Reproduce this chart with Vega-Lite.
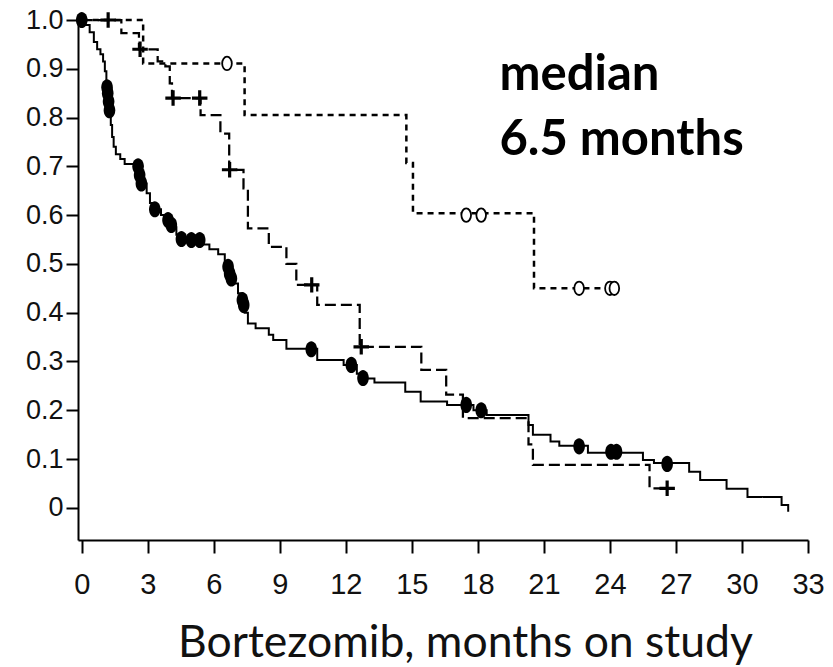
{
  "$schema": "https://vega.github.io/schema/vega-lite/v6.json",
  "autosize": {"type": "none"},
  "padding": {"left": 78, "top": 20, "right": 25, "bottom": 127},
  "width": 730,
  "height": 520,
  "background": "white",
  "config": {"view": {"stroke": null}},
  "datasets": {
    "curves": [
      {"series": "A", "t": 0, "s": 1.0},
      {"series": "A", "t": 0.15, "s": 0.99},
      {"series": "A", "t": 0.36, "s": 0.975},
      {"series": "A", "t": 0.55, "s": 0.955},
      {"series": "A", "t": 0.7, "s": 0.94},
      {"series": "A", "t": 0.85, "s": 0.93},
      {"series": "A", "t": 0.97, "s": 0.915},
      {"series": "A", "t": 1.05, "s": 0.895},
      {"series": "A", "t": 1.12, "s": 0.875},
      {"series": "A", "t": 1.17, "s": 0.855},
      {"series": "A", "t": 1.22, "s": 0.835},
      {"series": "A", "t": 1.27, "s": 0.81},
      {"series": "A", "t": 1.32, "s": 0.785},
      {"series": "A", "t": 1.38, "s": 0.76},
      {"series": "A", "t": 1.45, "s": 0.74},
      {"series": "A", "t": 1.55, "s": 0.725},
      {"series": "A", "t": 1.75, "s": 0.715},
      {"series": "A", "t": 1.95, "s": 0.705},
      {"series": "A", "t": 2.55, "s": 0.695},
      {"series": "A", "t": 2.65, "s": 0.68},
      {"series": "A", "t": 2.75, "s": 0.665},
      {"series": "A", "t": 2.95, "s": 0.645},
      {"series": "A", "t": 3.1, "s": 0.625},
      {"series": "A", "t": 3.3, "s": 0.612},
      {"series": "A", "t": 3.6, "s": 0.6},
      {"series": "A", "t": 3.9, "s": 0.59},
      {"series": "A", "t": 4.1, "s": 0.575},
      {"series": "A", "t": 4.3, "s": 0.56},
      {"series": "A", "t": 4.5, "s": 0.55},
      {"series": "A", "t": 5.5, "s": 0.54},
      {"series": "A", "t": 5.8, "s": 0.53},
      {"series": "A", "t": 6.2, "s": 0.52},
      {"series": "A", "t": 6.5, "s": 0.505},
      {"series": "A", "t": 6.65, "s": 0.49},
      {"series": "A", "t": 6.8, "s": 0.475},
      {"series": "A", "t": 6.95, "s": 0.46},
      {"series": "A", "t": 7.1, "s": 0.44},
      {"series": "A", "t": 7.3, "s": 0.42},
      {"series": "A", "t": 7.4, "s": 0.4},
      {"series": "A", "t": 7.55, "s": 0.378},
      {"series": "A", "t": 7.9, "s": 0.368},
      {"series": "A", "t": 8.5, "s": 0.355},
      {"series": "A", "t": 8.7, "s": 0.344},
      {"series": "A", "t": 9.3, "s": 0.326},
      {"series": "A", "t": 10.7, "s": 0.303},
      {"series": "A", "t": 11.9, "s": 0.293},
      {"series": "A", "t": 12.5, "s": 0.275},
      {"series": "A", "t": 12.7, "s": 0.265},
      {"series": "A", "t": 13.3, "s": 0.257},
      {"series": "A", "t": 14.7, "s": 0.238},
      {"series": "A", "t": 15.4, "s": 0.218},
      {"series": "A", "t": 16.6, "s": 0.211},
      {"series": "A", "t": 17.8, "s": 0.2},
      {"series": "A", "t": 18.4, "s": 0.19},
      {"series": "A", "t": 20.3, "s": 0.17},
      {"series": "A", "t": 20.5, "s": 0.15},
      {"series": "A", "t": 21.3, "s": 0.136},
      {"series": "A", "t": 21.7, "s": 0.127},
      {"series": "A", "t": 23.0, "s": 0.113},
      {"series": "A", "t": 25.5, "s": 0.098},
      {"series": "A", "t": 26.0, "s": 0.092},
      {"series": "A", "t": 27.6, "s": 0.074},
      {"series": "A", "t": 28.1, "s": 0.057},
      {"series": "A", "t": 29.3, "s": 0.039},
      {"series": "A", "t": 30.25, "s": 0.022},
      {"series": "A", "t": 31.8, "s": 0.006},
      {"series": "A", "t": 32.1, "s": -0.008},
      {"series": "B", "t": 0, "s": 1.0},
      {"series": "B", "t": 1.8, "s": 0.973},
      {"series": "B", "t": 2.6, "s": 0.94},
      {"series": "B", "t": 3.45, "s": 0.915},
      {"series": "B", "t": 3.8, "s": 0.905},
      {"series": "B", "t": 4.0, "s": 0.87},
      {"series": "B", "t": 4.1, "s": 0.84},
      {"series": "B", "t": 5.4, "s": 0.805},
      {"series": "B", "t": 6.3, "s": 0.767},
      {"series": "B", "t": 6.7, "s": 0.693},
      {"series": "B", "t": 7.35, "s": 0.655},
      {"series": "B", "t": 7.55, "s": 0.573},
      {"series": "B", "t": 8.5, "s": 0.535},
      {"series": "B", "t": 9.3, "s": 0.5},
      {"series": "B", "t": 9.75, "s": 0.457},
      {"series": "B", "t": 10.7, "s": 0.416},
      {"series": "B", "t": 12.63, "s": 0.33},
      {"series": "B", "t": 15.43, "s": 0.283},
      {"series": "B", "t": 16.56, "s": 0.232},
      {"series": "B", "t": 17.32, "s": 0.184},
      {"series": "B", "t": 20.3, "s": 0.13},
      {"series": "B", "t": 20.5, "s": 0.088},
      {"series": "B", "t": 25.8, "s": 0.04},
      {"series": "B", "t": 26.6, "s": 0.04},
      {"series": "C", "t": 0, "s": 1.0},
      {"series": "C", "t": 2.79, "s": 0.911},
      {"series": "C", "t": 7.4, "s": 0.805},
      {"series": "C", "t": 14.75, "s": 0.707},
      {"series": "C", "t": 15.05, "s": 0.604},
      {"series": "C", "t": 20.55, "s": 0.45},
      {"series": "C", "t": 24.3, "s": 0.45}
    ],
    "censors": [
      {"series": "A", "t": 0, "s": 1.0},
      {"series": "A", "t": 1.15, "s": 0.862},
      {"series": "A", "t": 1.18, "s": 0.85},
      {"series": "A", "t": 1.22, "s": 0.833},
      {"series": "A", "t": 1.26, "s": 0.815},
      {"series": "A", "t": 2.56, "s": 0.7},
      {"series": "A", "t": 2.63, "s": 0.682},
      {"series": "A", "t": 2.71, "s": 0.665},
      {"series": "A", "t": 3.32, "s": 0.612},
      {"series": "A", "t": 3.92, "s": 0.59},
      {"series": "A", "t": 4.07, "s": 0.58},
      {"series": "A", "t": 4.53, "s": 0.551},
      {"series": "A", "t": 4.98, "s": 0.549},
      {"series": "A", "t": 5.36, "s": 0.549},
      {"series": "A", "t": 6.65, "s": 0.494},
      {"series": "A", "t": 6.72, "s": 0.48},
      {"series": "A", "t": 6.8, "s": 0.47},
      {"series": "A", "t": 7.3, "s": 0.426},
      {"series": "A", "t": 7.36, "s": 0.416},
      {"series": "A", "t": 10.43, "s": 0.325},
      {"series": "A", "t": 12.25, "s": 0.293},
      {"series": "A", "t": 12.78, "s": 0.266},
      {"series": "A", "t": 17.47, "s": 0.211},
      {"series": "A", "t": 18.15, "s": 0.2},
      {"series": "A", "t": 22.6, "s": 0.126},
      {"series": "A", "t": 24.05, "s": 0.115},
      {"series": "A", "t": 24.3, "s": 0.115},
      {"series": "A", "t": 26.6, "s": 0.09},
      {"series": "B", "t": 1.2, "s": 1.0},
      {"series": "B", "t": 2.65, "s": 0.94},
      {"series": "B", "t": 4.15, "s": 0.84},
      {"series": "B", "t": 5.36, "s": 0.84},
      {"series": "B", "t": 6.72, "s": 0.693},
      {"series": "B", "t": 10.45, "s": 0.457},
      {"series": "B", "t": 12.7, "s": 0.33},
      {"series": "B", "t": 26.6, "s": 0.04},
      {"series": "C", "t": 6.6, "s": 0.911},
      {"series": "C", "t": 17.47, "s": 0.6},
      {"series": "C", "t": 18.15, "s": 0.6},
      {"series": "C", "t": 22.6, "s": 0.45},
      {"series": "C", "t": 24.0, "s": 0.45},
      {"series": "C", "t": 24.2, "s": 0.45}
    ],
    "note": [{"label": "median"}]
  },
  "layer": [
    {
      "data": {"name": "curves"},
      "mark": {"type": "line", "interpolate": "step-after", "color": "black", "clip": false},
      "encoding": {
        "x": {
          "field": "t", "type": "quantitative",
          "scale": {"domain": [-0.17, 33], "nice": false, "zero": false},
          "axis": {
            "values": [0, 3, 6, 9, 12, 15, 18, 21, 24, 27, 30, 33],
            "grid": false,
            "domainColor": "black", "domainWidth": 2,
            "tickColor": "black", "tickWidth": 2, "tickSize": 13,
            "labelFont": "Liberation Sans", "labelFontSize": 29, "labelColor": "#111",
            "labelPadding": 17, "labelFlush": false, "labelOverlap": false,
            "title": "Bortezomib, months on study",
            "titleFont": "Lato", "titleFontSize": 44.5, "titleFontWeight": "normal", "titleColor": "#111",
            "titleX": 387, "titleY": 116, "titleAlign": "center", "titleBaseline": "alphabetic"
          }
        },
        "y": {
          "field": "s", "type": "quantitative",
          "scale": {"domain": [-0.066, 1.0], "nice": false, "zero": false},
          "axis": {
            "values": [0, 0.1, 0.2, 0.3, 0.4, 0.5, 0.6, 0.7, 0.8, 0.9, 1.0],
            "labelExpr": "datum.value == 0 ? '0' : format(datum.value, '.1f')",
            "grid": false,
            "domainColor": "black", "domainWidth": 2,
            "tickColor": "black", "tickWidth": 2, "tickSize": 12,
            "labelFont": "Liberation Sans", "labelFontSize": 27, "labelColor": "#111",
            "labelPadding": 3, "labelFlush": false, "labelOverlap": false,
            "title": null
          }
        },
        "detail": {"field": "series"},
        "strokeDash": {
          "field": "series", "type": "nominal",
          "scale": {"domain": ["A", "B", "C"], "range": [[1, 0], [11, 5], [6, 5]]},
          "legend": null
        },
        "strokeWidth": {
          "field": "series", "type": "nominal",
          "scale": {"domain": ["A", "B", "C"], "range": [2, 2.5, 2.2]},
          "legend": null
        }
      }
    },
    {
      "data": {"name": "censors"},
      "transform": [{"filter": "datum.series == 'A'"}],
      "mark": {"type": "point", "shape": "M0,-1A0.72,1,0,1,1,0,1A0.72,1,0,1,1,0,-1Z", "filled": true, "color": "black", "size": 260, "opacity": 1, "clip": false},
      "encoding": {
        "x": {"field": "t", "type": "quantitative"},
        "y": {"field": "s", "type": "quantitative"}
      }
    },
    {
      "data": {"name": "censors"},
      "transform": [{"filter": "datum.series == 'B'"}],
      "mark": {"type": "point", "shape": "M-1,0L1,0M0,-1L0,1", "filled": false, "stroke": "black", "strokeWidth": 3.2, "size": 240, "opacity": 1, "clip": false},
      "encoding": {
        "x": {"field": "t", "type": "quantitative"},
        "y": {"field": "s", "type": "quantitative"}
      }
    },
    {
      "data": {"name": "censors"},
      "transform": [{"filter": "datum.series == 'C'"}],
      "mark": {"type": "point", "shape": "M0,-1A0.72,1,0,1,1,0,1A0.72,1,0,1,1,0,-1Z", "filled": false, "fill": "white", "fillOpacity": 1, "stroke": "black", "strokeWidth": 1.8, "size": 180, "opacity": 1, "clip": false},
      "encoding": {
        "x": {"field": "t", "type": "quantitative"},
        "y": {"field": "s", "type": "quantitative"}
      }
    },
    {
      "data": {"name": "note"},
      "mark": {"type": "text", "text": ["median", "6.5 months"], "font": "Lato", "fontSize": 49, "fontWeight": "bold", "color": "black", "align": "left", "baseline": "alphabetic", "lineHeight": 65},
      "encoding": {
        "x": {"datum": 18.98},
        "y": {"datum": 0.857}
      }
    }
  ]
}
